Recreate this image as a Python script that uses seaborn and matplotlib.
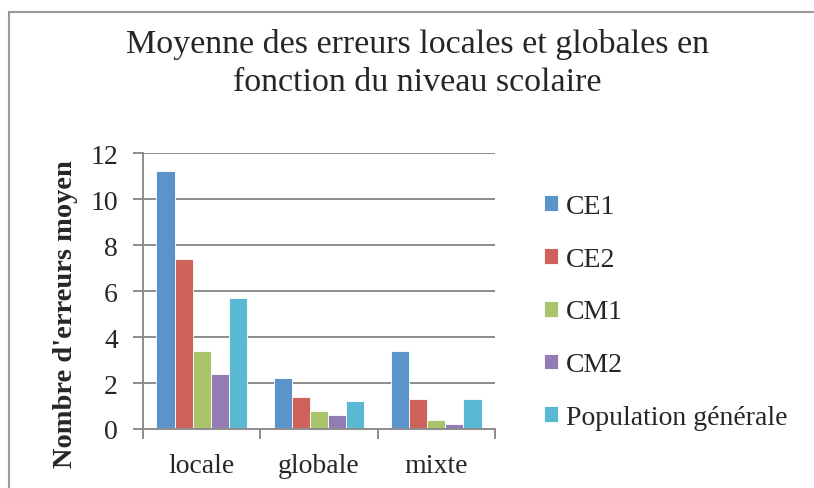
import pandas as pd
import matplotlib.pyplot as plt
import seaborn as sns
from matplotlib.patches import Rectangle

# data
categories = ["locale", "globale", "mixte"]
niveaux = ["CE1", "CE2", "CM1", "CM2", "Population générale"]
ce1 = [11.2, 2.2, 3.4]
ce2 = [7.4, 1.4, 1.3]
cm1 = [3.4, 0.8, 0.4]
cm2 = [2.4, 0.6, 0.2]
pop = [5.7, 1.2, 1.3]
yticks = [0, 2, 4, 6, 8, 10, 12]

colors = ["#5B93CB", "#CF635C", "#A9C46B", "#937BB3", "#5AB9D2"]

rows = []
for niv, vals in zip(niveaux, [ce1, ce2, cm1, cm2, pop]):
    for cat, v in zip(categories, vals):
        rows.append({"erreur": cat, "niveau": niv, "valeur": v})
df = pd.DataFrame(rows)

sns.set_style("white")
plt.rcParams["font.family"] = ["Liberation Serif", "DejaVu Serif"]

fig = plt.figure(figsize=(8.14, 4.89), dpi=100)
ax = fig.add_axes([143 / 814, 1 - 430 / 489, 352 / 814, 276 / 489])

sns.barplot(data=df, x="erreur", y="valeur", hue="niveau", order=categories,
            hue_order=niveaux, palette=colors, saturation=1, width=0.77, gap=0,
            edgecolor="white", linewidth=0.6, ax=ax)

ax.set_xlim(-0.5, 2.5)
ax.set_ylim(0, 12)
ax.set_yticks(yticks)
ax.yaxis.grid(True, color="#8c8c8c", linewidth=1.4)
ax.set_axisbelow(True)
for side in ["top", "right"]:
    ax.spines[side].set_visible(False)
for side in ["left", "bottom"]:
    ax.spines[side].set_color("#8c8c8c")
    ax.spines[side].set_linewidth(1.4)

ax.set_xticks([-0.5, 0.5, 1.5, 2.5], minor=True)
ax.tick_params(axis="x", which="minor", length=7, width=1.4, color="#8c8c8c", direction="out")
ax.tick_params(axis="x", which="major", length=0, pad=17, labelsize=20)
ax.tick_params(axis="y", length=7, width=1.4, color="#8c8c8c", direction="out", pad=11, labelsize=20)
ax.tick_params(axis="both", left=True, bottom=True, which="both")

ax.set_xlabel("")
ax.set_ylabel("Nombre d'erreurs moyen", fontsize=20.5, fontweight="bold")
ax.yaxis.set_label_coords(-0.185, 0.42)

title_x = 417 / 814
fig.text(title_x, 1 - 53 / 489, "Moyenne des erreurs locales et globales en",
         ha="center", va="baseline", fontsize=24.5)
fig.text(title_x, 1 - 91 / 489, "fonction du niveau scolaire",
         ha="center", va="baseline", fontsize=24.5)

leg = ax.legend(loc="center left", bbox_to_anchor=(544 / 814, 1 - 313 / 489),
                bbox_transform=fig.transFigure, frameon=False, fontsize=20,
                handlelength=0.5, handleheight=0.5, handletextpad=0.3,
                labelspacing=1.0, borderpad=0, borderaxespad=0)

fig.patches.append(Rectangle((9 / 814, -0.05), 1.1, 1 - 13 / 489 + 0.05,
                             transform=fig.transFigure, fill=False,
                             edgecolor="#999999", linewidth=1.5))

plt.savefig("out.png", dpi=100)
